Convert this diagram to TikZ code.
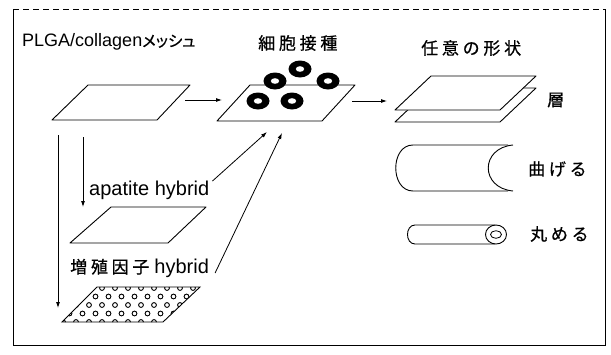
\documentclass[tikz,border=0pt]{standalone}
\usepackage{fontspec}
\setmainfont{Liberation Sans}
\newfontfamily\cjk[LetterSpace=22,FakeBold=0.6]{Noto Sans CJK JP}
\newfontfamily\cjkp[RawFeature=+palt,FakeBold=0.6]{Noto Sans CJK JP}
\usetikzlibrary{arrows.meta}

\tikzset{
  sheet/.style={draw, line width=0.9pt, fill=white, line join=round},
  flow/.style={-{Latex[length=6pt,width=4pt]}, line width=0.8pt},
  lbl/.style={inner sep=0pt, font=\fontsize{18}{20}\selectfont},
  hlbl/.style={inner sep=0pt, font=\fontsize{20}{22}\selectfont},
  jlbl/.style={inner sep=0pt, font=\fontsize{17}{19}\selectfont\cjk},
}
\newcommand\cellring[1]{%
  \fill (#1) ellipse [x radius=11.5pt, y radius=8.5pt];
  \fill[white] (#1) ellipse [x radius=4.2pt, y radius=2.8pt];}

\begin{document}
\begin{tikzpicture}[x=1pt,y=-1pt]
\useasboundingbox (0,0) rectangle (611,354);

% frame
\draw[line width=0.6pt] (13,9) -- (13,345) -- (605,345) -- (605,9);
\draw[line width=0.5pt, dash pattern=on 6pt off 4pt] (13,9) -- (605,9);

% headings
\node[lbl, anchor=west] (mesh-lbl) at (22,42) {PLGA/collagen{\cjkp\fontsize{15.5}{18}\selectfont メッシュ}};
\node[jlbl, anchor=west] (cell-lbl) at (258,43) {細胞接種};
\node[jlbl, anchor=west] (shape-lbl) at (421,48) {任意の形状};

% mesh sheet
\draw[sheet] (52,120) -- (157,120) -- (190,85) -- (88,85) -- cycle;

% sheet with seeded cells
\draw[sheet] (217,121) -- (322,121) -- (355,85) -- (250,85) -- cycle;
\foreach \x/\y in {275/81,300/69,328/81,258/101,292/101}
  {\cellring{\x,\y}}

% stacked layers
\draw[sheet] (395,122) -- (500,122) -- (536,88) -- (431,88) -- cycle;
\draw[sheet] (395,110) -- (500,110) -- (536,76) -- (431,76) -- cycle;
\node[jlbl, anchor=west] (layer) at (547,100) {層};

% bent sheet
\draw[line width=0.9pt] (508,145) -- (413,145) .. controls (390,145) and (390,191) .. (413,191) -- (508,191);
\draw[line width=0.9pt] (513,145) .. controls (480,148) and (480,188) .. (513,191);
\node[jlbl, anchor=west] (bend) at (528,169) {曲げる};

% rolled sheet
\draw[line width=0.9pt] (495,225) -- (415,225) .. controls (405,225) and (405,244) .. (415,244) -- (495,244);
\draw[line width=0.9pt, fill=white] (496,234.5) ellipse [x radius=10.5pt, y radius=9.5pt];
\draw[line width=0.8pt] (496,234.5) ellipse [x radius=5.5pt, y radius=3.8pt];
\node[jlbl, anchor=west] (roll) at (530,234) {丸める};

% apatite sheet
\draw[sheet] (70,243) -- (168,243) -- (206,207) -- (111,207) -- cycle;
\node[hlbl, anchor=west] (apatite) at (89,190) {apatite hybrid};

% growth factor sheet
\node[hlbl, anchor=west] (factor) at (70,268) {{\cjk\fontsize{17}{19}\selectfont 増殖因子}\hspace{5pt}hybrid};
\begin{scope}
  \clip (62,322) -- (163,322) -- (200,287) -- (97,287) -- cycle;
  \foreach \r in {0,...,4}
    \foreach \k in {0,...,13}
      \draw[line width=0.9pt, fill=white] ({50+13*\k+6.5*mod(\r,2)},{288+8.5*\r}) circle [radius=2.4pt];
\end{scope}
\draw[line width=0.9pt] (62,322) -- (163,322) -- (200,287) -- (97,287) -- cycle;

% connectors
\coordinate (mesh-out) at (185,100);
\coordinate (cell-in) at (222,100);
\coordinate (cell-out) at (352,101);
\coordinate (shape-in) at (387,101);
\coordinate (mesh-down1) at (83,137);
\coordinate (apatite-in) at (83,207);
\coordinate (mesh-down2) at (58,135);
\coordinate (factor-in) at (58,308);
\coordinate (cell-low1) at (267,132);
\coordinate (cell-low2) at (282,133);
\draw[flow] (mesh-out) -- (cell-in);
\draw[flow] (cell-out) -- (shape-in);
\draw[flow] (mesh-down1) -- (apatite-in);
\draw[flow] (mesh-down2) -- (factor-in);
\draw[flow] ([xshift=3pt,yshift=9pt]apatite.east) -- (cell-low1);
\draw[flow] ([xshift=6pt,yshift=-5pt]factor.east) -- (cell-low2);
\end{tikzpicture}
\end{document}
